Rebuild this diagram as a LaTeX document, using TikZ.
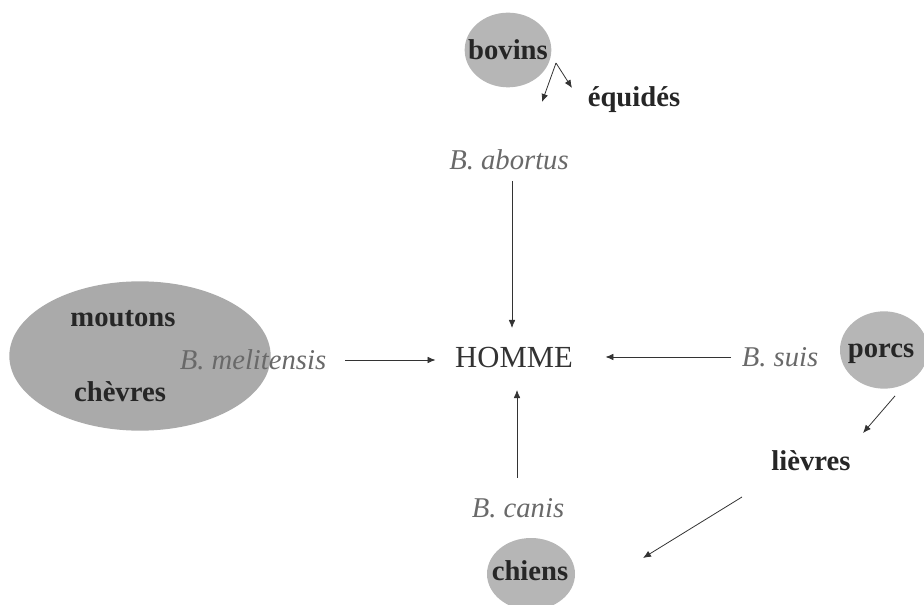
\documentclass[tikz,border=0pt]{standalone}
\usepackage{fontspec}
\setmainfont{Liberation Serif}
\definecolor{hostgray}{RGB}{182,182,182}
\definecolor{sheepgray}{RGB}{170,170,170}
\definecolor{germgray}{RGB}{105,105,105}
\usetikzlibrary{arrows.meta,positioning,shapes.geometric}

\begin{document}
\begin{tikzpicture}[x=0.75pt,y=-0.75pt]
\tikzset{
  host/.style={ellipse,fill=hostgray,inner sep=0pt},
  animal/.style={font=\fontsize{21.5}{25}\selectfont\bfseries,text=black!85},
  germ/.style={font=\fontsize{21.5}{25}\selectfont\itshape,text=germgray},
  route/.style={-{Latex[length=6pt,width=5pt]},line width=0.6pt,black!80}
}
\useasboundingbox (0,0) rectangle (924,605);
% hotes (ellipses grises)
\node[host,minimum width=196pt,minimum height=112pt,fill=sheepgray] (flock) at (140,356) {};
\node[host,minimum width=65pt,minimum height=56pt] (bovine) at (508,50) {};
\node[host,minimum width=66pt,minimum height=58pt] (pig) at (884,350) {};
\node[host,minimum width=66pt,minimum height=54pt] (dog) at (531,574) {};
% textes
\node[animal] (sheep) at (123,319) {moutons};
\node[animal] (goat) at (120,392) {chèvres};
\node[animal] (cow) at (508,50) {bovins};
\node[animal] (horse) at (634,100) {équidés};
\node[animal] (pigtxt) at (881,354) {porcs};
\node[animal] (hare) at (811,461) {lièvres};
\node[animal] (dogtxt) at (530,571) {chiens};
\node[font=\fontsize{23}{26}\selectfont,text=black!80] (man) at (514,357) {HOMME};
\node[germ] (abortus) at (509,160) {B. abortus};
\node[germ] (meli) at (253,360) {B. melitensis};
\node[germ] (suis) at (780,357) {B. suis};
\node[germ] (canis) at (518,508) {B. canis};
% transmission
\coordinate (fork) at (556,63);
\coordinate (forkA) at (542,102);
\coordinate (forkB) at (572,88);
\draw[route] (fork) -- (forkA);
\draw[route] (fork) -- (forkB);
\draw[route] ([shift={(3,6)}]abortus.south) -- ([shift={(0,-14)}]man.north -| 512,0);
\draw[route] (345,0 |- meli.center) -- ([shift={(-15,0)}]man.west |- meli.center);
\draw[route] ([shift={(-6,0)}]suis.west) -- ([shift={(28,0)}]man.east |- suis.west);
\draw[route] ([shift={(0,-16)}]canis.north -| 517,0) -- ([shift={(0,18)}]man.south -| 517,0);
\draw[route] ([shift={(11,7)}]pig.south) -- ([shift={(52,-28)}]hare.center);
\draw[route] ([shift={(-69,36)}]hare.center) -- ([shift={(112,-16)}]dog.center);
\end{tikzpicture}
\end{document}
